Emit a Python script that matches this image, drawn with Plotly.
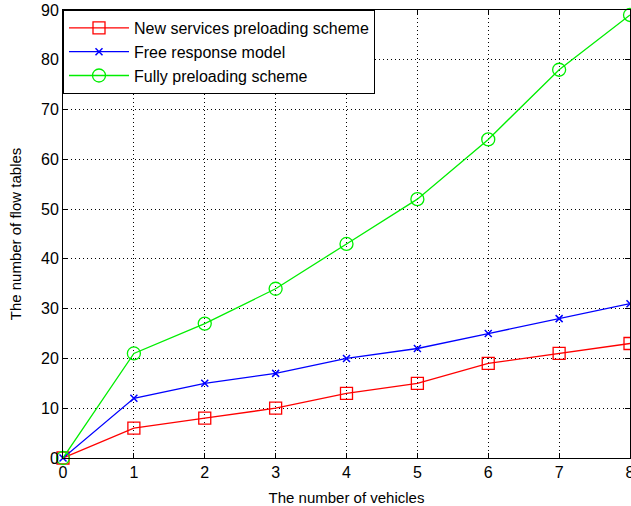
import plotly.graph_objects as go

vehicles = [0, 1, 2, 3, 4, 5, 6, 7, 8]
new_services = [0, 6, 8, 10, 13, 15, 19, 21, 23]
free_response = [0, 12, 15, 17, 20, 22, 25, 28, 31]
fully_preloading = [0, 21, 27, 34, 43, 52, 64, 78, 89]

fig = go.Figure()
fig.add_trace(go.Scatter(x=vehicles, y=new_services, mode="lines+markers",
                         name="New services preloading scheme",
                         line=dict(color="#ff0000", width=1.3),
                         marker=dict(symbol="square-open", size=12, color="#ff0000", line=dict(width=1.3)),
                         cliponaxis=False))
fig.add_trace(go.Scatter(x=vehicles, y=free_response, mode="lines+markers",
                         name="Free response model",
                         line=dict(color="#0000ff", width=1.3),
                         marker=dict(symbol="x-thin-open", size=7, color="#0000ff", line=dict(width=1.5, color="#0000ff")),
                         cliponaxis=False))
fig.add_trace(go.Scatter(x=vehicles, y=fully_preloading, mode="lines+markers",
                         name="Fully preloading scheme",
                         line=dict(color="#00ee00", width=1.3),
                         marker=dict(symbol="circle-open", size=13, color="#00ee00", line=dict(width=1.3)),
                         cliponaxis=False))

font = "Liberation Sans, Arial, sans-serif"
axis_common = dict(showline=True, linecolor="black", linewidth=1, mirror="ticks",
                   ticks="inside", ticklen=5, tickcolor="black", automargin=False,
                   showgrid=True, gridcolor="black", gridwidth=1, griddash="1px,3px",
                   ticklabeloverflow="allow",
                   zeroline=False, tickfont=dict(family=font, size=16, color="black"))
fig.update_xaxes(range=[0, 8], dtick=1, title=dict(text="The number of vehicles", font=dict(family=font, size=15, color="black")), **axis_common)
fig.update_yaxes(range=[0, 90], dtick=10, title=dict(text="The number of flow tables", font=dict(family=font, size=15, color="black")), **axis_common)

fig.update_layout(width=631, height=506,
                  margin=dict(l=63, r=1, t=10, b=48, autoexpand=False),
                  paper_bgcolor="white", plot_bgcolor="white",
                  legend=dict(x=0, y=1, xanchor="left", yanchor="top",
                              bordercolor="black", borderwidth=1, bgcolor="white",
                              font=dict(family=font, size=16, color="black"),
                              itemwidth=60, tracegroupgap=0))
fig.write_html("out.html", config={"displayModeBar": False},
               post_script="document.body.style.margin='0';")
